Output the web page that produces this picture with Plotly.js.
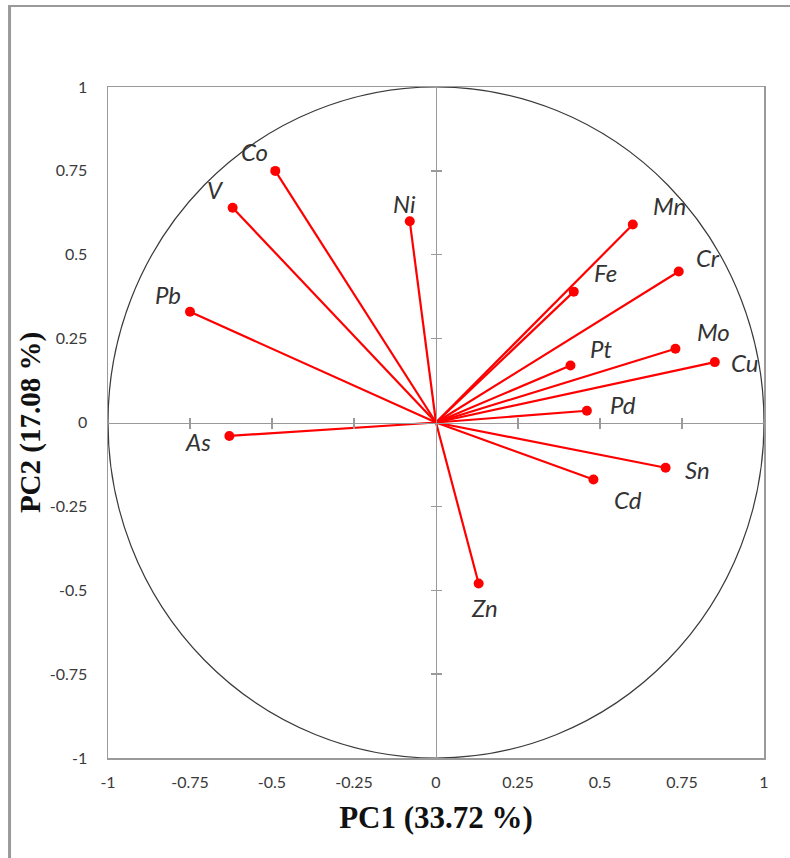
<!DOCTYPE html>
<html>
<head>
<meta charset="utf-8">
<script src="https://cdn.plot.ly/plotly-3.0.1.min.js"></script>
<style>
  html, body { margin: 0; padding: 0; background: #fff; }
  #chart { width: 790px; height: 858px; }
</style>
</head>
<body>
<div id="chart"></div>
<script>
// ---- data ----
const variables = ['Co', 'V', 'Ni', 'Pb', 'Mn', 'Fe', 'Cr', 'Mo', 'Pt', 'Cu', 'Pd', 'Sn', 'Cd', 'As', 'Zn'];
const pc1 = [-0.49, -0.62, -0.08, -0.75, 0.60, 0.42, 0.74, 0.73, 0.41, 0.85, 0.46, 0.70, 0.48, -0.63, 0.13];
const pc2 = [0.75, 0.64, 0.60, 0.33, 0.59, 0.39, 0.45, 0.22, 0.17, 0.18, 0.035, -0.135, -0.17, -0.04, -0.48];
const tickValues = [-1, -0.75, -0.5, -0.25, 0, 0.25, 0.5, 0.75, 1];
const tickLabels = ['-1', '-0.75', '-0.5', '-0.25', '0', '0.25', '0.5', '0.75', '1'];
const innerTickValues = [-0.75, -0.5, -0.25, 0.25, 0.5, 0.75];
const xTitle = 'PC1 (33.72 %)';
const yTitle = 'PC2 (17.08 %)';

// label offsets in pixels (placement only)
const labelShiftX = [-21, -17, -5, -22, 37, 32, 29, 38, 31, 30, 36, 32, 35, -31, 6];
const labelShiftY = [19, 18, 18, 17, 19, 19, 14, 17, 17, 0, 6, -2, -20, -6, -24];

// ---- traces ----
const lx = [], ly = [];
for (let i = 0; i < variables.length; i++) {
  lx.push(0, pc1[i], null);
  ly.push(0, pc2[i], null);
}
const RED = '#ff0000';
const traces = [
  { type: 'scatter', mode: 'lines', x: lx, y: ly, line: { color: RED, width: 2.2 }, hoverinfo: 'skip', showlegend: false },
  { type: 'scatter', mode: 'markers', x: pc1, y: pc2, text: variables, marker: { color: RED, size: 10 }, showlegend: false },
  { type: 'scatter', x: [null], y: [null], xaxis: 'x2', yaxis: 'y2', showlegend: false },
  { type: 'scatter', x: [null], y: [null], xaxis: 'x3', yaxis: 'y3', showlegend: false }
];

const annotations = variables.map((v, i) => ({
  x: pc1[i], y: pc2[i], xref: 'x', yref: 'y', text: v, showarrow: false,
  xshift: labelShiftX[i], yshift: labelShiftY[i],
  font: { family: 'Lato, "Open Sans", sans-serif', size: 24, color: '#333333', style: 'italic' }
}));

const AX_GRAY = '#9a9a9a';
const tickFont = { family: 'Lato, "Open Sans", sans-serif', size: 16, color: '#3a3a3a' };
const centerAxis = (dir) => ({
  range: [-1, 1], anchor: 'free', position: 0.5, showline: true, linecolor: AX_GRAY, linewidth: 1.3,
  ticks: dir, ticklen: 5, tickwidth: 1.3, tickcolor: AX_GRAY, tickmode: 'array', tickvals: innerTickValues,
  showticklabels: false, showgrid: false, zeroline: false
});

const layout = {
  width: 790, height: 858,
  margin: { l: 108, r: 26, t: 87, b: 100 },
  paper_bgcolor: '#ffffff', plot_bgcolor: '#ffffff',
  showlegend: false,
  xaxis: {
    range: [-1, 1], showline: true, mirror: true, linecolor: AX_GRAY, linewidth: 1.5,
    tickmode: 'array', tickvals: tickValues, ticktext: tickLabels,
    ticks: 'outside', ticklen: 9, tickcolor: 'rgba(0,0,0,0)', tickfont: tickFont,
    showgrid: false, zeroline: false, automargin: false,
    title: { text: xTitle, standoff: 16, font: { family: '"Liberation Serif", "Times New Roman", serif', size: 31, color: '#111', weight: 'bold' } }
  },
  yaxis: {
    range: [-1, 1], showline: true, mirror: true, linecolor: AX_GRAY, linewidth: 1.5,
    tickmode: 'array', tickvals: tickValues, ticktext: tickLabels,
    ticks: 'outside', ticklen: 16, tickcolor: 'rgba(0,0,0,0)', tickfont: tickFont,
    showgrid: false, zeroline: false, automargin: false,
    title: { text: yTitle, standoff: 0, font: { family: '"Liberation Serif", "Times New Roman", serif', size: 29, color: '#111', weight: 'bold' } }
  },
  xaxis2: Object.assign(centerAxis('outside'), { overlaying: 'x' }),
  yaxis2: Object.assign(centerAxis('outside'), { overlaying: 'y' }),
  xaxis3: Object.assign(centerAxis('inside'), { overlaying: 'x' }),
  yaxis3: Object.assign(centerAxis('inside'), { overlaying: 'y' }),
  shapes: [
    { type: 'circle', xref: 'x', yref: 'y', x0: -1, x1: 1, y0: -1, y1: 1, line: { color: '#3a3a3a', width: 1.2 }, layer: 'below' },
    // outer frame (left and top)
    { type: 'line', xref: 'paper', yref: 'paper', x0: -0.1501, x1: -0.1501, y0: -0.2, y1: 1.1207, line: { color: '#9a9a9a', width: 3 } },
    { type: 'line', xref: 'paper', yref: 'paper', x0: -0.1524, x1: 1.05, y0: 1.1207, y1: 1.1207, line: { color: '#9a9a9a', width: 2 } }
  ],
  annotations: annotations
};

Plotly.newPlot('chart', traces, layout, { displayModeBar: false, staticPlot: true });
</script>
</body>
</html>
